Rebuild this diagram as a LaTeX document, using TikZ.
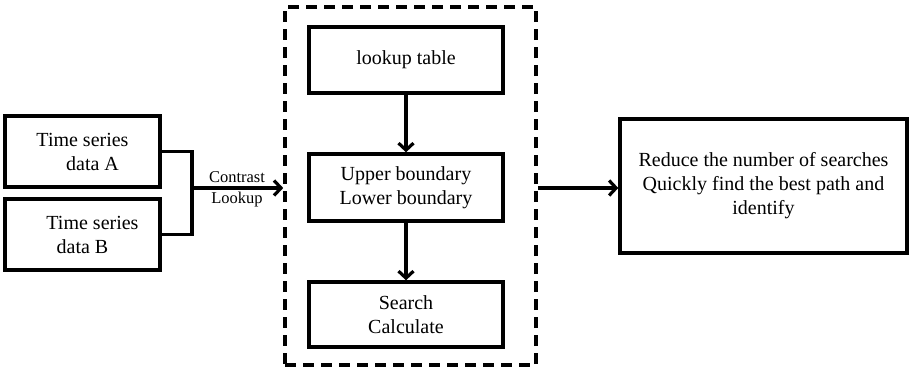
\documentclass[tikz,border=0pt]{standalone}
\usepackage{fontspec}
\setmainfont{Liberation Serif}
\newfontfamily\tnr{Liberation Serif}
\usetikzlibrary{arrows.meta}
\begin{document}
\begin{tikzpicture}[x=1pt,y=-1pt,
  box/.style={draw=black, line width=3.4pt, rectangle, align=center, inner sep=0pt,
    font=\tnr\fontsize{20}{24}\selectfont},
  conn/.style={line width=3.2pt, -{Straight Barb[length=7pt,width=15pt,line width=3.2pt]}},
  plain/.style={line width=3.2pt},
  lbl/.style={font=\tnr\fontsize{16.5}{21}\selectfont, align=center, inner sep=0pt}]
\useasboundingbox (0,0) rectangle (910,372);
% left inputs
\node[box, minimum width=155pt, minimum height=71pt] (A) at (82.5,151.5)
  {Time series\\\hspace*{1em}data A};
\node[box, minimum width=155pt, minimum height=71pt] (B) at (82.5,234.5)
  {\hspace*{1em}Time series\\data B};
% dashed group
\node[draw=black, line width=3.6pt, dash pattern=on 11pt off 7pt, rectangle,
  minimum width=251pt, minimum height=358pt, inner sep=0pt] (G) at (410.5,186) {};
\node[box, minimum width=194pt, minimum height=66pt] (L) at (406,60) {lookup table};
\node[box, minimum width=194pt, minimum height=67pt] (U) at (406,187.5)
  {Upper boundary\\Lower boundary};
\node[box, minimum width=194pt, minimum height=65pt] (S) at (406,314.5)
  {Search\\Calculate};
% result
\node[box, minimum width=287pt, minimum height=134pt] (R) at (763.5,186)
  {Reduce the number of searches\\Quickly find the best path and\\identify};
% connectors
\coordinate (J) at (192,188);
\draw[plain] (A.east) -| (J) |- (B.east);
\draw[conn] (J) -- (J -| G.west);
\node[lbl] (C) at (237,189) {Contrast\\Lookup};
\draw[conn] (L) -- (U);
\draw[conn] (U) -- (S);
\draw[conn] (G.east |- 0,188) -- (R.west |- 0,188);
\end{tikzpicture}
\end{document}
